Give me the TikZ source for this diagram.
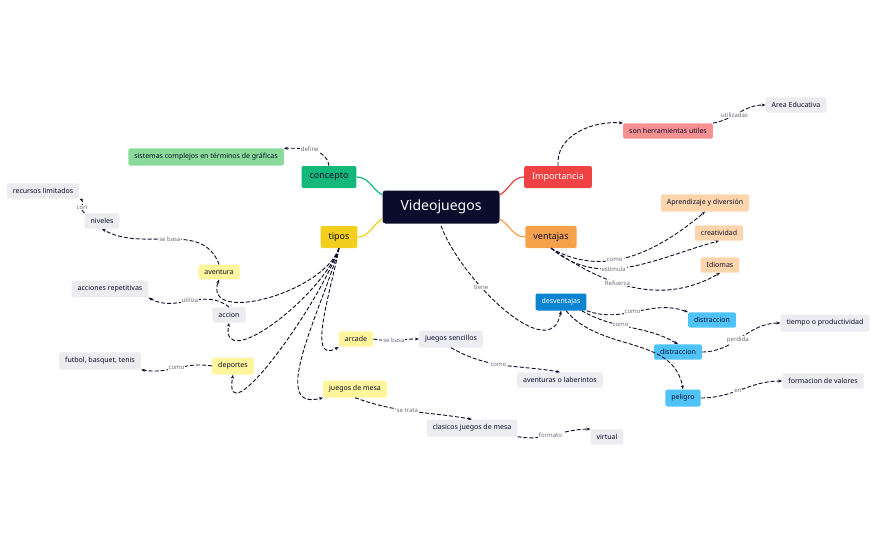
\documentclass[tikz,border=0pt]{standalone}
\usepackage{fontspec}
\setmainfont{Noto Sans}
\usetikzlibrary{arrows.meta}
\definecolor{navy}{HTML}{0B0B2B}
\definecolor{lgray}{HTML}{ECECF0}
\definecolor{cgreen}{HTML}{14B87A}
\definecolor{cred}{HTML}{F04242}
\definecolor{cyel}{HTML}{F2CF1D}
\definecolor{corg}{HTML}{F5A04A}
\definecolor{lgreen}{HTML}{8ADA9A}
\definecolor{pink}{HTML}{F79191}
\definecolor{peach}{HTML}{FDD5AC}
\definecolor{dblue}{HTML}{0A84D0}
\definecolor{lblue}{HTML}{4FC3F7}
\definecolor{lyel}{HTML}{FFF59D}
\definecolor{lbl}{HTML}{6A6A7A}
\tikzset{
 box/.style={rounded corners=2pt,inner xsep=6pt,inner ysep=5pt,font=\fontsize{7}{8}\selectfont,text=navy},
 gbox/.style={box,fill=lgray},
 ybox/.style={box,fill=lyel},
 pbox/.style={box,fill=peach},
 bbox/.style={box,fill=lblue},
 main/.style={rounded corners=2pt,minimum height=22pt,inner xsep=8pt,font=\fontsize{9}{10}\selectfont},
 lnk/.style={draw=navy,dashed,dash pattern=on 4pt off 2pt,line width=0.9pt,-{Stealth[length=4pt]}},
 lab/.style={fill=white,inner sep=1pt,font=\fontsize{6}{7}\selectfont,text=lbl},
 br/.style={line width=1.2pt}
}
\begin{document}
\begin{tikzpicture}[x=1pt,y=-1pt]
\useasboundingbox (0,0) rectangle (877,543);
\node[rounded corners=3pt,fill=navy,text=white,font=\bfseries\fontsize{14}{16}\selectfont,minimum width=117pt,minimum height=33pt] (vj) at (441,207) {Videojuegos};
\node[main,fill=cgreen,text=navy] (con) at (329,177) {concepto};
\node[main,fill=cred,text=white] (imp) at (558,177) {Importancia};
\node[main,fill=cyel,text=navy] (tip) at (339,237) {tipos};
\node[main,fill=corg,text=navy] (ven) at (551,237) {ventajas};
\draw[br,cgreen] (vj.west) ++(0,-12) to[out=150,in=0] (con.east);
\draw[br,cred] (vj.east) ++(0,-12) to[out=30,in=180] (imp.west);
\draw[br,cyel] (vj.west) ++(0,12) to[out=210,in=0] (tip.east);
\draw[br,corg] (vj.east) ++(0,12) to[out=-30,in=180] (ven.west);

\node[box,fill=lgreen] (sis) at (206,157) {sistemas complejos en términos de gráficas};
\node[box,fill=pink] (her) at (668,131) {son herramientas utiles};
\node[gbox] (area) at (796,105) {Area Educativa};
\node[pbox] (apr) at (705,203) {Aprendizaje y diversión};
\node[pbox] (cre) at (719,233) {creatividad};
\node[pbox] (idi) at (720,265) {Idiomas};
\node[box,fill=dblue,text=white] (des) at (561,302) {desventajas};
\node[bbox] (d1) at (712,320) {distraccion};
\node[bbox] (d2) at (678,352) {distraccion};
\node[bbox] (pel) at (683,398) {peligro};
\node[gbox] (tie) at (825,323) {tiempo o productividad};
\node[gbox] (for) at (823,381) {formacion de valores};
\node[gbox] (rec) at (43,191) {recursos limitados};
\node[gbox] (niv) at (102,221) {niveles};
\node[ybox] (ave) at (219,272) {aventura};
\node[gbox] (acr) at (110,289) {acciones repetitivas};
\node[gbox] (acc) at (229,315) {accion};
\node[gbox] (fut) at (100,361) {futbol, basquet, tenis};
\node[ybox] (dep) at (233,366) {deportes};
\node[ybox] (arc) at (356,339) {arcade};
\node[gbox] (jse) at (451,339) {juegos sencillos};
\node[gbox] (avl) at (560,380) {aventuras o laberintos};
\node[ybox] (jme) at (355,389) {juegos de mesa};
\node[gbox] (cla) at (472,428) {clasicos juegos de mesa};
\node[gbox] (vir) at (607,437) {virtual};

\draw[lnk] (con.north) to[out=100,in=0] node[lab,pos=0.55]{define} (sis.north east);
\draw[lnk] (imp.north) to[out=95,in=175] (her.north west);
\draw[lnk] (her.north east) to[out=10,in=180] node[lab,pos=0.4]{utilizadas} (area.west);
\draw[lnk] (ven.south) to[out=-30,in=-140] node[lab,pos=0.4]{como} (apr.south);
\draw[lnk] (ven.south) to[out=-40,in=-165] node[lab,pos=0.4]{estimula} (cre.south);
\draw[lnk] (ven.south) to[out=-35,in=-150] node[lab,pos=0.4]{Refuerza} (idi.south);
\draw[lnk] (vj.south) ++(0,2) to[out=-70,in=-100] node[lab,pos=0.35]{tiene} (des.south);
\draw[lnk] (des.south east) to[out=-20,in=160] node[lab,pos=0.45]{como} (d1.north west);
\draw[lnk] (des.south east) ++(-5,0) to[out=-30,in=150] node[lab,pos=0.4]{como} (d2.north);
\draw[lnk] (des.south) ++(5,0) to[out=-50,in=100] (pel.north);
\draw[lnk] (d2.east) to[out=0,in=180] node[lab,pos=0.45]{perdida} (tie.west);
\draw[lnk] (pel.east) to[out=0,in=180] node[lab,pos=0.45]{en} (for.west);
\draw[lnk] (tip.south) to[out=-110,in=-110] (ave.south);
\draw[lnk] (tip.south) to[out=-110,in=-100] (acc.south);
\draw[lnk] (tip.south) to[out=-110,in=-100] (dep.south);
\draw[lnk] (tip.south) to[out=-100,in=-150] (arc.south west);
\draw[lnk] (tip.south) to[out=-105,in=-165] (jme.south west);
\draw[lnk] (ave.north) to[out=110,in=-30] node[lab,pos=0.5]{se basa} (niv.south);
\draw[lnk] (niv.north west) to[out=160,in=-20] node[lab,pos=0.4]{con} (rec.south east);
\draw[lnk] (acc.north) to[out=140,in=-30] node[lab,pos=0.5]{utiliza} (acr.south east);
\draw[lnk] (dep.west) to[out=170,in=-10] node[lab,pos=0.5]{como} (fut.south east);
\draw[lnk] (arc.east) to[out=-10,in=180] node[lab,pos=0.45]{se basa} (jse.west);
\draw[lnk] (jse.south) to[out=-30,in=170] node[lab,pos=0.45]{como} (avl.north);
\draw[lnk] (jme.south) to[out=-20,in=170] node[lab,pos=0.45]{se trata} (cla.north);
\draw[lnk] (cla.south east) to[out=-10,in=180] node[lab,pos=0.45]{formato} (vir.north west);
\end{tikzpicture}
\end{document}
